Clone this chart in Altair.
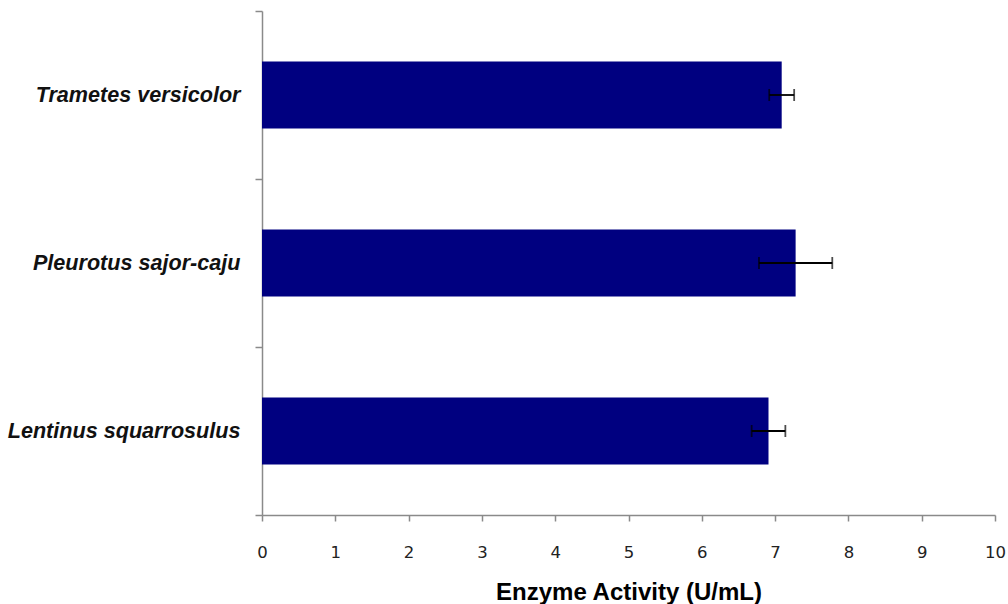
import altair as alt
import pandas as pd

# Mean laccase activity per fungal species, with standard deviation
species = ["Trametes versicolor", "Pleurotus sajor-caju", "Lentinus squarrosulus"]
activity = [7.09, 7.28, 6.91]
std_dev = [0.17, 0.50, 0.23]
x_ticks = list(range(0, 11))

df = pd.DataFrame({"species": species, "activity": activity, "sd": std_dev})

AXIS_GRAY = "#8a8a8a"
TITLE = "Enzyme Activity (U/mL)"

y_scale = alt.Scale(paddingInner=0, paddingOuter=0)

y_enc = alt.Y(
    "species:N",
    sort=species,
    title=None,
    scale=y_scale,
    axis=alt.Axis(
        tickBand="extent",
        labelFont="Liberation Sans",
        labelFontStyle="italic",
        labelFontWeight="bold",
        labelFontSize=21.6,
        labelColor="#111111",
        labelPadding=15,
        labelLimit=400,
        tickSize=7,
        tickWidth=1.5,
        tickColor=AXIS_GRAY,
        domainColor=AXIS_GRAY,
        domainWidth=1.5,
    ),
)

x_scale = alt.Scale(domain=[0, 10], nice=False)
x_axis = alt.Axis(
    values=x_ticks,
    format="d",
    grid=False,
    labelFlush=False,
    labelOverlap=False,
    labelFont="DejaVu Sans",
    labelFontSize=16.5,
    labelColor="#222222",
    labelPadding=23,
    tickSize=6,
    tickWidth=1.5,
    tickColor=AXIS_GRAY,
    domainColor=AXIS_GRAY,
    domainWidth=1.5,
    titleFont="Liberation Sans",
    titleFontSize=24,
    titleFontWeight="bold",
    titleColor="#000000",
    titlePadding=20,
)

base = alt.Chart(df).transform_calculate(
    lo="datum.activity - datum.sd",
    hi="datum.activity + datum.sd",
)

bars = base.mark_bar(color="#000080", height=alt.RelativeBandSize(0.4)).encode(
    x=alt.X("activity:Q", scale=x_scale, axis=x_axis, title=TITLE),
    y=y_enc,
)

whisker = base.mark_rule(color="#000000", strokeWidth=1.8).encode(
    x=alt.X("lo:Q", scale=x_scale, title=TITLE),
    x2="hi:Q",
    y=alt.Y("species:N", sort=species, title=None, scale=y_scale),
)

cap_lo = base.mark_tick(color="#000000", size=12, thickness=1.8).encode(
    x=alt.X("lo:Q", scale=x_scale, title=TITLE),
    y=alt.Y("species:N", sort=species, title=None, scale=y_scale),
)

cap_hi = base.mark_tick(color="#000000", size=12, thickness=1.8).encode(
    x=alt.X("hi:Q", scale=x_scale, title=TITLE),
    y=alt.Y("species:N", sort=species, title=None, scale=y_scale),
)

chart = (
    alt.layer(bars, whisker, cap_lo, cap_hi)
    .properties(
        width=733,
        height=504,
        autosize=alt.AutoSizeParams(type="none"),
        padding={"left": 262, "top": 11, "right": 13, "bottom": 89},
        background="white",
    )
    .configure_view(stroke=None)
)

chart.save("out.html", embed_options={"renderer": "svg", "actions": False})
